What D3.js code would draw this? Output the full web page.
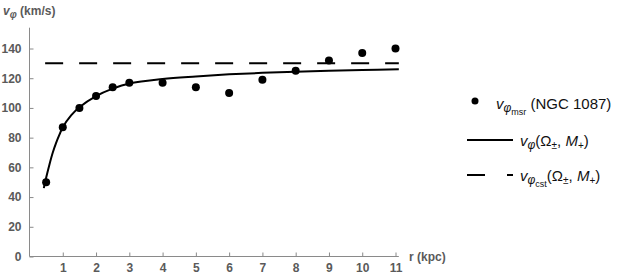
<!DOCTYPE html>
<html>
<head>
<meta charset="utf-8">
<title>Rotation curve</title>
<script src="https://d3js.org/d3.v7.min.js"></script>
<style>
body { margin: 0; background: #fff; }
text { font-family: "Liberation Sans", Arial, sans-serif; }
</style>
</head>
<body>
<script>
// measured points (NGC 1087)
var rMsr = [0.5, 1, 1.5, 2, 2.5, 3, 4, 5, 6, 7, 8, 9, 10, 11];
var vMsr = [50, 87, 100, 108, 114, 117, 117, 114, 110, 119, 125, 132, 137, 140];

// model curve
var rFit = [0.43, 0.5, 0.6, 0.7, 0.8, 0.9, 1.0, 1.25, 1.5, 2, 2.5, 3, 4, 5, 6, 7, 8, 9, 10, 11.1];
var vFit = [46, 53, 62, 70, 76.5, 82, 87, 95, 100.5, 108, 113, 116.5, 119.5, 121.2, 122.6, 123.6, 124.4, 125, 125.5, 126];

// constant velocity
var rCst = [0.47, 11.1];
var vCst = [130, 130];

var xTicks = [1, 2, 3, 4, 5, 6, 7, 8, 9, 10, 11];
var yTicks = [0, 20, 40, 60, 80, 100, 120, 140];

var width = 628, height = 279;

var svg = d3.select("body").append("svg")
    .attr("width", width)
    .attr("height", height);

var x = d3.scaleLinear().domain([0, 11]).range([29.5, 395.5]);
var y = d3.scaleLinear().domain([0, 140]).range([256.5, 48.5]);

var axisColor = "#8a8a8a";
var labelColor = "#5a5a5a";

// x axis
var xAxis = svg.append("g")
    .attr("transform", "translate(0," + y(0) + ")")
    .call(d3.axisBottom(x).tickValues(xTicks).tickSizeInner(-4).tickSizeOuter(0).tickPadding(7));
xAxis.select(".domain").attr("d", "M" + x(0) + ",0H" + x(11.1)).attr("stroke", axisColor);
xAxis.selectAll(".tick line").attr("stroke", axisColor);
xAxis.selectAll(".tick text")
    .attr("fill", labelColor)
    .style("font-size", "12px")
    .style("font-weight", "bold")
    .style("font-family", "Liberation Sans, Arial, sans-serif");

// y axis
var yAxis = svg.append("g")
    .attr("transform", "translate(" + x(0) + ",0)")
    .call(d3.axisLeft(y).tickValues(yTicks).tickSizeInner(-4).tickSizeOuter(0).tickPadding(8));
yAxis.select(".domain").attr("d", "M0," + y(0) + "V" + y(154)).attr("stroke", axisColor);
yAxis.selectAll(".tick line").attr("stroke", axisColor);
yAxis.selectAll(".tick text")
    .attr("fill", labelColor)
    .style("font-size", "12px")
    .style("font-weight", "bold")
    .style("font-family", "Liberation Sans, Arial, sans-serif");

// axis titles
var yt = svg.append("text")
    .attr("x", 3).attr("y", 15)
    .attr("fill", labelColor)
    .style("font-size", "12px")
    .style("font-weight", "bold");
yt.append("tspan").text("v").style("font-style", "italic");
yt.append("tspan").text("φ").style("font-style", "italic").attr("dy", 3).style("font-size", "10px");
yt.append("tspan").text(" (km/s)").attr("dy", -3);

svg.append("text")
    .attr("x", 409).attr("y", 261)
    .attr("fill", labelColor)
    .style("font-size", "12px")
    .style("font-weight", "bold")
    .text("r (kpc)");

var line = d3.line()
    .x(function(d) { return x(d[0]); })
    .y(function(d) { return y(d[1]); });

// constant dashed line
svg.append("path")
    .datum(d3.zip(rCst, vCst))
    .attr("d", line)
    .attr("fill", "none")
    .attr("stroke", "#000")
    .attr("stroke-width", 2)
    .attr("stroke-dasharray", "18,16");

// fitted curve
svg.append("path")
    .datum(d3.zip(rFit, vFit))
    .attr("d", line.curve(d3.curveCatmullRom))
    .attr("fill", "none")
    .attr("stroke", "#000")
    .attr("stroke-width", 2);

// measured points
svg.selectAll(".pt")
    .data(d3.zip(rMsr, vMsr))
    .enter()
    .append("circle")
    .attr("class", "pt")
    .attr("cx", function(d) { return x(d[0]); })
    .attr("cy", function(d) { return y(d[1]); })
    .attr("r", 4)
    .attr("fill", "#000");

// legend
var leg = svg.append("g");
leg.append("circle").attr("cx", 475).attr("cy", 101).attr("r", 3.5).attr("fill", "#000");
var t1 = leg.append("text").attr("x", 496).attr("y", 109).style("font-size", "15px").attr("fill", "#111");
t1.append("tspan").text("v").style("font-style", "italic");
t1.append("tspan").text("φ").style("font-style", "italic").style("font-size", "12px").attr("dy", 3);
t1.append("tspan").text("msr").style("font-size", "9px").attr("dy", 3);
t1.append("tspan").text(" (NGC 1087)").attr("dy", -6);

leg.append("line").attr("x1", 467).attr("x2", 513).attr("y1", 140).attr("y2", 140)
    .attr("stroke", "#000").attr("stroke-width", 2);
var t2 = leg.append("text").attr("x", 520).attr("y", 146).style("font-size", "15px").attr("fill", "#111");
t2.append("tspan").text("v").style("font-style", "italic");
t2.append("tspan").text("φ").style("font-style", "italic").style("font-size", "12px").attr("dy", 3);
t2.append("tspan").text("(Ω").attr("dy", -3);
t2.append("tspan").text("±").style("font-size", "10px").attr("dy", 3);
t2.append("tspan").text(", ").attr("dy", -3);
t2.append("tspan").text("M").style("font-style", "italic");
t2.append("tspan").text("+").style("font-size", "10px").attr("dy", 3);
t2.append("tspan").text(")").attr("dy", -3);

leg.append("line").attr("x1", 467).attr("x2", 513).attr("y1", 175).attr("y2", 175)
    .attr("stroke", "#000").attr("stroke-width", 2).attr("stroke-dasharray", "18,22");
var t3 = leg.append("text").attr("x", 520).attr("y", 181).style("font-size", "15px").attr("fill", "#111");
t3.append("tspan").text("v").style("font-style", "italic");
t3.append("tspan").text("φ").style("font-style", "italic").style("font-size", "12px").attr("dy", 3);
t3.append("tspan").text("cst").style("font-size", "9px").attr("dy", 3);
t3.append("tspan").text("(Ω").attr("dy", -6);
t3.append("tspan").text("±").style("font-size", "10px").attr("dy", 3);
t3.append("tspan").text(", ").attr("dy", -3);
t3.append("tspan").text("M").style("font-style", "italic");
t3.append("tspan").text("+").style("font-size", "10px").attr("dy", 3);
t3.append("tspan").text(")").attr("dy", -3);
</script>
</body>
</html>
